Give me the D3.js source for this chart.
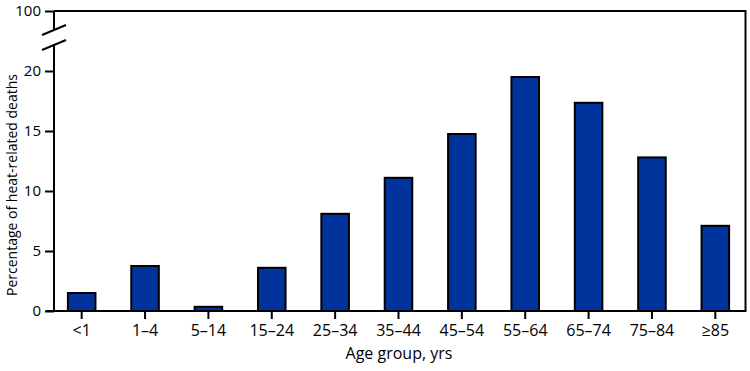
<!DOCTYPE html>
<html>
<head>
<meta charset="utf-8">
<script src="https://cdn.jsdelivr.net/npm/d3@7"></script>
<style>
  body { margin: 0; background: #fff; }
  text { font-family: "Open Sans", "Noto Sans", sans-serif; fill: #000; }
</style>
</head>
<body>
<div id="chart"></div>
<script>
const ageGroups = ["<1", "1–4", "5–14", "15–24", "25–34", "35–44", "45–54", "55–64", "65–74", "75–84", "≥85"];
const percentages = [1.5, 3.75, 0.35, 3.6, 8.1, 11.1, 14.75, 19.5, 17.35, 12.8, 7.1];
const yTicks = [0, 5, 10, 15, 20, 100];

const width = 750, height = 371;

const svg = d3.select("#chart").append("svg")
    .attr("width", width)
    .attr("height", height);

let x = d3.scaleBand()
    .domain(ageGroups)
    .range([50, 747])
    .paddingInner(0.565)
    .paddingOuter(0.2825);

// broken axis: 0-20 linear, then jump to 100
let y = d3.scaleLinear()
    .domain([0, 20, 25, 100])
    .range([311, 71, 41, 11]);

// frame (top and right)
svg.append("path")
    .attr("d", "M" + 54 + "," + y(100) + "H" + 745.5 + "V" + y(0))
    .attr("fill", "none")
    .attr("stroke", "#000")
    .attr("stroke-width", 2);

// bars
svg.selectAll(".bar")
  .data(percentages)
  .enter().append("rect")
    .attr("class", "bar")
    .attr("x", (d, i) => x(ageGroups[i]))
    .attr("y", d => y(d))
    .attr("width", x.bandwidth())
    .attr("height", d => y(0) - y(d))
    .attr("fill", "#00339c")
    .attr("stroke", "#000")
    .attr("stroke-width", 2);

// y axis
let yAxis = d3.axisLeft(y).tickValues(yTicks).tickSize(9).tickPadding(4);
let yAxisGroup = svg.append("g")
    .attr("transform", "translate(54,0)")
    .call(yAxis);
yAxisGroup.select(".domain").remove();
yAxisGroup.selectAll("line").attr("stroke-width", 2);
yAxisGroup.selectAll("text").style("font-size", "15px").attr("font-family", null);

// axis line with break gap
svg.append("line")
    .attr("x1", 54).attr("x2", 54)
    .attr("y1", y(100)).attr("y2", 29)
    .attr("stroke", "#000").attr("stroke-width", 2);
svg.append("line")
    .attr("x1", 54).attr("x2", 54)
    .attr("y1", 44).attr("y2", y(0))
    .attr("stroke", "#000").attr("stroke-width", 2);
[30, 45].forEach(c => {
  svg.append("line")
      .attr("x1", 42).attr("x2", 66)
      .attr("y1", c + 5).attr("y2", c - 5)
      .attr("stroke", "#000").attr("stroke-width", 2);
});

// x axis
let xAxis = d3.axisBottom(x).tickSize(8).tickPadding(6);
let xAxisGroup = svg.append("g")
    .attr("transform", "translate(0," + y(0) + ")")
    .call(xAxis);
xAxisGroup.select(".domain").remove();
xAxisGroup.selectAll("line").attr("stroke-width", 2);
xAxisGroup.selectAll("text").style("font-size", "16px").attr("font-family", null);

svg.append("line")
    .attr("x1", 46).attr("x2", 746.5)
    .attr("y1", y(0)).attr("y2", y(0))
    .attr("stroke", "#000").attr("stroke-width", 2);

// titles
svg.append("text")
    .attr("x", 399)
    .attr("y", 359)
    .attr("text-anchor", "middle")
    .style("font-size", "16px")
    .text("Age group, yrs");

svg.append("text")
    .attr("transform", "translate(17,185) rotate(-90)")
    .attr("text-anchor", "middle")
    .style("font-size", "14px")
    .text("Percentage of heat-related deaths");
</script>
</body>
</html>
